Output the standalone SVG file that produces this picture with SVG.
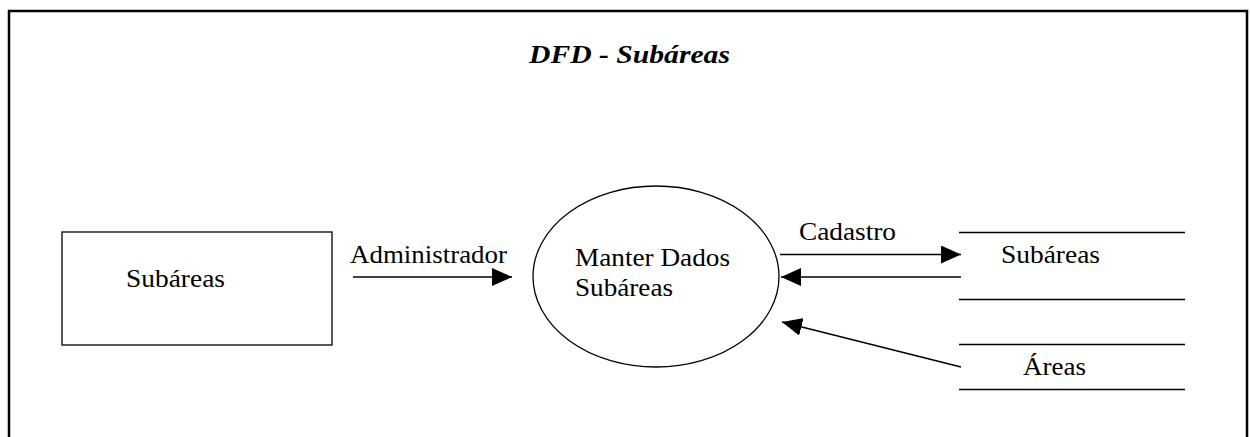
<svg xmlns="http://www.w3.org/2000/svg" width="1250" height="437" viewBox="0 0 1250 437">
  <style>
    .lbl { font-family: "Liberation Serif", "Times New Roman", serif; font-size: 26px; fill: #000; }
    .title { font-family: "Liberation Serif", "Times New Roman", serif; font-size: 25px; font-weight: bold; font-style: italic; fill: #000; }
    .ln { stroke: #000; stroke-width: 1.5; fill: none; }
    .shape { stroke: #000; stroke-width: 1.3; fill: #fff; }
  </style>
  <defs>
    <marker id="arrow" markerUnits="userSpaceOnUse" markerWidth="20" markerHeight="18" refX="20" refY="9" orient="auto">
      <polygon points="0,0 20,9 0,18" fill="#000"/>
    </marker>
  </defs>
  <rect width="1250" height="437" fill="#fff"/>
  <!-- page frame, open at the bottom -->
  <path d="M9,437 V11 H1247 V437" fill="none" stroke="#000" stroke-width="2.5"/>
  <text class="title" x="529" y="63" textLength="201" lengthAdjust="spacingAndGlyphs">DFD - Subáreas</text>

  <g id="entity-subareas">
    <rect class="shape" x="62" y="232" width="270" height="113"/>
    <text class="lbl" x="126" y="287" textLength="99" lengthAdjust="spacingAndGlyphs">Subáreas</text>
  </g>

  <g id="process-manter">
    <ellipse class="shape" cx="656" cy="276.5" rx="123" ry="90.5"/>
    <text class="lbl" x="575" y="266" textLength="155" lengthAdjust="spacingAndGlyphs">Manter Dados</text>
    <text class="lbl" x="575" y="296" textLength="98" lengthAdjust="spacingAndGlyphs">Subáreas</text>
  </g>

  <g id="store-subareas">
    <line class="ln" x1="959" y1="232.5" x2="1185" y2="232.5"/>
    <line class="ln" x1="959" y1="299.5" x2="1185" y2="299.5"/>
    <text class="lbl" x="1001" y="263" textLength="99" lengthAdjust="spacingAndGlyphs">Subáreas</text>
  </g>

  <g id="store-areas">
    <line class="ln" x1="959" y1="344.5" x2="1185" y2="344.5"/>
    <line class="ln" x1="959" y1="389.5" x2="1185" y2="389.5"/>
    <text class="lbl" x="1023" y="375" textLength="63" lengthAdjust="spacingAndGlyphs">Áreas</text>
  </g>

  <g id="connectors">
    <line class="ln" x1="353" y1="277" x2="512" y2="277" marker-end="url(#arrow)"/>
    <text class="lbl" x="350" y="263" textLength="157" lengthAdjust="spacingAndGlyphs">Administrador</text>
    <line class="ln" x1="780" y1="254.5" x2="961" y2="254.5" marker-end="url(#arrow)"/>
    <text class="lbl" x="799" y="240" textLength="97" lengthAdjust="spacingAndGlyphs">Cadastro</text>
    <line class="ln" x1="961" y1="277" x2="781" y2="277" marker-end="url(#arrow)"/>
    <line class="ln" x1="961" y1="367" x2="782" y2="322" marker-end="url(#arrow)"/>
  </g>
</svg>
